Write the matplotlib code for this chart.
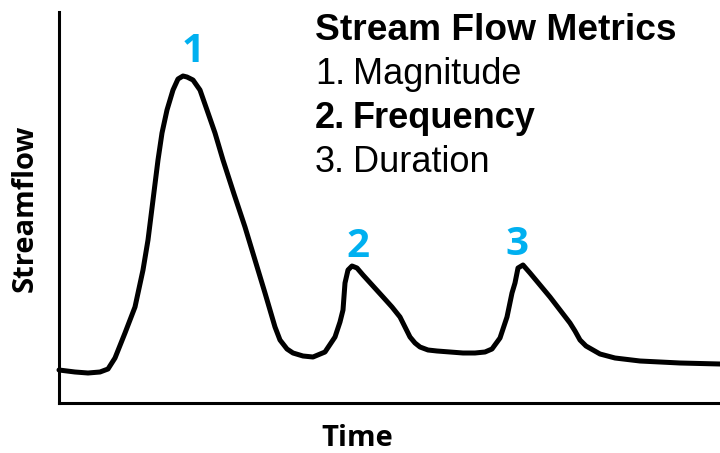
import matplotlib
matplotlib.use("Agg")
import matplotlib.pyplot as plt

# hydrograph (arbitrary units)
time = [0, 16, 29, 41, 49, 56, 66, 76, 84, 89,
        94, 99, 103, 108, 114, 119, 124, 128, 134, 141,
        148, 156, 164, 175, 186, 196, 206, 211, 216, 221,
        228, 234, 244, 254, 266, 276, 281, 284, 286, 289,
        293, 298, 304, 314, 324, 333, 341, 346, 351, 356,
        361, 369, 378, 391, 404, 416, 426, 433, 441, 448,
        453, 456, 459, 464, 471, 481, 491, 501, 511, 516,
        521, 527, 534, 541, 556, 581, 621, 661]
flow = [33, 31, 30, 31, 34, 45, 70, 96, 133, 163,
        203, 243, 270, 293, 313, 324, 327, 326, 323, 313,
        293, 270, 243, 209, 176, 143, 110, 93, 76, 63,
        54, 50, 47, 46, 51, 66, 81, 93, 120, 133,
        137, 135, 128, 117, 106, 96, 86, 76, 66, 60,
        56, 53, 52, 51, 50, 50, 51, 54, 65, 86,
        110, 120, 135, 138, 130, 118, 106, 93, 80, 72,
        63, 57, 53, 49, 45, 42, 40, 39]

# peak labels
peak_labels = ["1", "2", "3"]
peak_time = [134, 299, 458]
peak_flow = [341, 146, 148]

title = "Stream Flow Metrics"
metric_nums = ["1.", "2.", "3."]
metric_names = ["Magnitude", "Frequency", "Duration"]
metric_bold = [False, True, False]

blue = "#00B0F0"

fig = plt.figure(figsize=(7.2, 4.53), dpi=100)
ax = fig.add_axes([59 / 720, 50 / 453, 661 / 720, 391 / 453])

ax.plot(time, flow, color="black", lw=3.6, solid_joinstyle="round",
        solid_capstyle="round", clip_on=False)
ax.set_xlim(0, 661)
ax.set_ylim(0, 391)

for lab, t, q in zip(peak_labels, peak_time, peak_flow):
    ax.text(t, q, lab, color=blue, fontsize=29, fontweight="bold",
            family="Open Sans", ha="center", va="baseline")

ax.set_xticks([])
ax.set_yticks([])
for s in ["top", "right"]:
    ax.spines[s].set_visible(False)
for s in ["left", "bottom"]:
    ax.spines[s].set_linewidth(2.2)

fig.text(25 / 720, 1 - 208 / 453, "Streamflow", rotation=90, fontsize=21,
         fontweight="bold", family="Open Sans", ha="center", va="center")
fig.text(357 / 720, 1 - 438 / 453, "Time", fontsize=21, fontweight="bold",
         family="Open Sans", ha="center", va="center")

# metrics list in the upper right
fig.text(315 / 720, 1 - 40 / 453, title, fontsize=26.7, fontweight="bold",
         family="Liberation Sans", va="baseline")
for i, (n, name, b) in enumerate(zip(metric_nums, metric_names, metric_bold)):
    y = 1 - (84 + 44 * i) / 453
    w = "bold" if b else "normal"
    fig.text(315 / 720, y, n, fontsize=26, fontweight=w,
             family="Liberation Sans", va="baseline")
    fig.text(353 / 720, y, name, fontsize=26, fontweight=w,
             family="Liberation Sans", va="baseline")

fig.savefig("out.png", dpi=100)
